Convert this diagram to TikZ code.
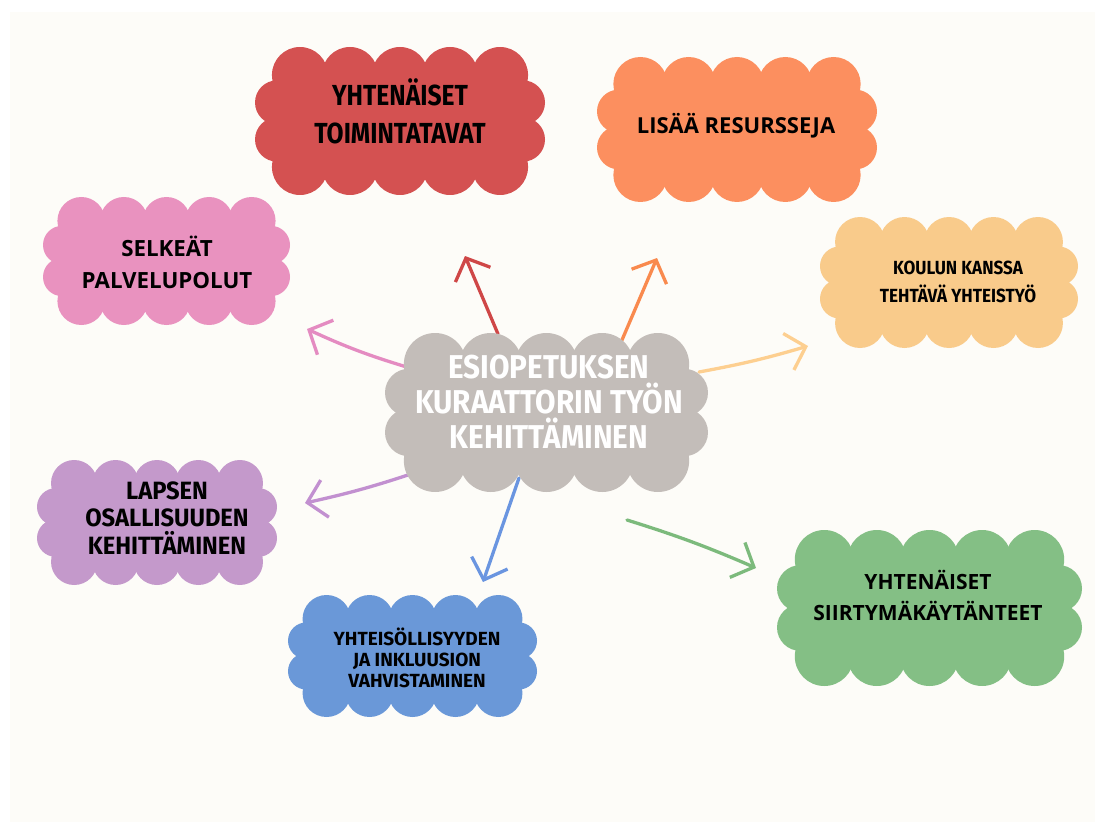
\documentclass[tikz,border=0pt]{standalone}
\usepackage{fontspec}
\usetikzlibrary{arrows.meta}
\newfontfamily\condA[FakeStretch=0.85]{Fira Sans}
\newfontfamily\condB[FakeStretch=0.90]{Fira Sans}
\newfontfamily\condD[FakeStretch=0.95]{Fira Sans}
\newfontfamily\condC{Fira Sans}
\newfontfamily\plainbf{Open Sans}
\definecolor{bgc}{HTML}{FDFCF8}
\definecolor{cRed}{HTML}{D45151}
\definecolor{cOrange}{HTML}{FC8F5F}
\definecolor{cPink}{HTML}{E992BF}
\definecolor{cYellow}{HTML}{F9CB8B}
\definecolor{cGray}{HTML}{C3BDB9}
\definecolor{cPurple}{HTML}{C499CB}
\definecolor{cBlue}{HTML}{6A98D8}
\definecolor{cGreen}{HTML}{84BF85}
\definecolor{aRed}{HTML}{CF4747}
\definecolor{aOrange}{HTML}{F98A4E}
\definecolor{aPink}{HTML}{E48BC1}
\definecolor{aYellow}{HTML}{FDCF90}
\definecolor{aPurple}{HTML}{C290D0}
\definecolor{aBlue}{HTML}{6A95E0}
\definecolor{aGreen}{HTML}{7CBA7C}
% cloud: #1 colour, #2 cx, #3 cy, #4 half width, #5 half height, #6 top bumps, #7 side bumps
\newcommand\cloudblob[7]{%
  \pgfmathsetmacro\cbsx{0.31*#4}%
  \pgfmathsetmacro\cbsp{(2*#4-2*\cbsx)/(#6-1)}%
  \pgfmathsetmacro\cbrt{0.56*\cbsp}%
  \pgfmathsetmacro\cbrs{0.3*#5}%
  \pgfmathsetmacro\cbk{0.25*#5*(#7-1)}%
  \pgfmathsetmacro\cbsy{2*\cbk/(#7-1)}%
  \fill[#1] ({#2-#4+\cbrs},{#3-#5+\cbrt}) rectangle ({#2+#4-\cbrs},{#3+#5-\cbrt});
  \foreach \i in {1,...,#6}{%
    \fill[#1] ({#2-#4+\cbsx+(\i-1)*\cbsp},{#3-#5+\cbrt}) circle[radius=\cbrt pt];
    \fill[#1] ({#2-#4+\cbsx+(\i-1)*\cbsp},{#3+#5-\cbrt}) circle[radius=\cbrt pt];
  }
  \foreach \j in {1,...,#7}{%
    \fill[#1] ({#2-#4+\cbrs},{#3-\cbk+(\j-1)*\cbsy}) circle[radius=\cbrs pt];
    \fill[#1] ({#2+#4-\cbrs},{#3-\cbk+(\j-1)*\cbsy}) circle[radius=\cbrs pt];
  }
}
\begin{document}
\begin{tikzpicture}[x=1pt,y=-1pt,
  arr/.style={line width=3.3pt, line cap=round, line join=round,
    -{Straight Barb[length=18pt,width=38pt]}},
  lbl/.style={align=center, inner sep=0pt, text=black}]
\useasboundingbox (0,0) rectangle (1101,832);
\fill[white] (0,0) rectangle (1101,832);
\fill[bgc] (10,12) rectangle (1095,822);

% arrow end points
\coordinate (rS) at (498,334); \coordinate (rE) at (465,256);
\coordinate (oS) at (622,340); \coordinate (oE) at (657,258);
\coordinate (pS) at (410,368); \coordinate (pE) at (307,329);
\coordinate (yS) at (699,372); \coordinate (yE) at (808,346);
\coordinate (uS) at (417,472); \coordinate (uE) at (305,503);
\coordinate (bS) at (519,478); \coordinate (bE) at (483,582);
\coordinate (gS) at (627,520); \coordinate (gE) at (756,568);

\draw[arr, aRed] (rS) -- (rE);
\draw[arr, aOrange] (oS) -- (oE);
\draw[arr, aPink] (pS) to[bend left=4] (pE);
\draw[arr, aYellow] (yS) to[bend right=3] (yE);
\draw[arr, aPurple] (uS) to[bend left=3] (uE);
\draw[arr, aBlue] (bS) -- (bE);
\draw[arr, aGreen] (gS) to[bend left=3] (gE);

% clouds
\cloudblob{cRed}{400}{121}{145}{74}{5}{2}
\cloudblob{cOrange}{737}{129.5}{140}{72.5}{5}{2}
\cloudblob{cPink}{166.5}{261}{123.5}{64}{5}{2}
\cloudblob{cYellow}{949}{282.5}{129}{65.5}{5}{2}
\cloudblob{cGray}{546.5}{412.5}{161.5}{79.5}{5}{2}
\cloudblob{cPurple}{157}{522.5}{120}{62.5}{5}{2}
\cloudblob{cBlue}{412.5}{656}{124.5}{61}{5}{2}
\cloudblob{cGreen}{929.5}{608}{152.5}{78}{5}{2}

% labels
\node[lbl, font=\condA\bfseries\fontsize{29}{38}\selectfont] (tRed) at (400,111) {YHTENÄISET\\TOIMINTATAVAT};
\node[lbl, font=\plainbf\bfseries\fontsize{22}{26}\selectfont] (tOrange) at (736,126) {LISÄÄ RESURSSEJA};
\node[lbl, font=\plainbf\bfseries\fontsize{22.3}{32}\selectfont] (tPink) at (167,262) {SELKEÄT\\PALVELUPOLUT};
\node[lbl, font=\condB\bfseries\fontsize{19}{28}\selectfont] (tYellow) at (958,282) {KOULUN KANSSA\\TEHTÄVÄ YHTEISTYÖ};
\node[lbl, text=white, font=\condB\bfseries\fontsize{33}{35}\selectfont] (tCenter) at (549,402) {ESIOPETUKSEN\\KURAATTORIN TYÖN\\KEHITTÄMINEN};
\node[lbl, font=\condD\bfseries\fontsize{25}{27.5}\selectfont] (tPurple) at (167,518) {LAPSEN\\OSALLISUUDEN\\KEHITTÄMINEN};
\node[lbl, font=\condC\bfseries\fontsize{19}{21}\selectfont] (tBlue) at (417,658) {YHTEISÖLLISYYDEN\\JA INKLUUSION\\VAHVISTAMINEN};
\node[lbl, font=\plainbf\bfseries\fontsize{21}{31}\selectfont] (tGreen) at (928,595) {YHTENÄISET\\SIIRTYMÄKÄYTÄNTEET};
\end{tikzpicture}
\end{document}
